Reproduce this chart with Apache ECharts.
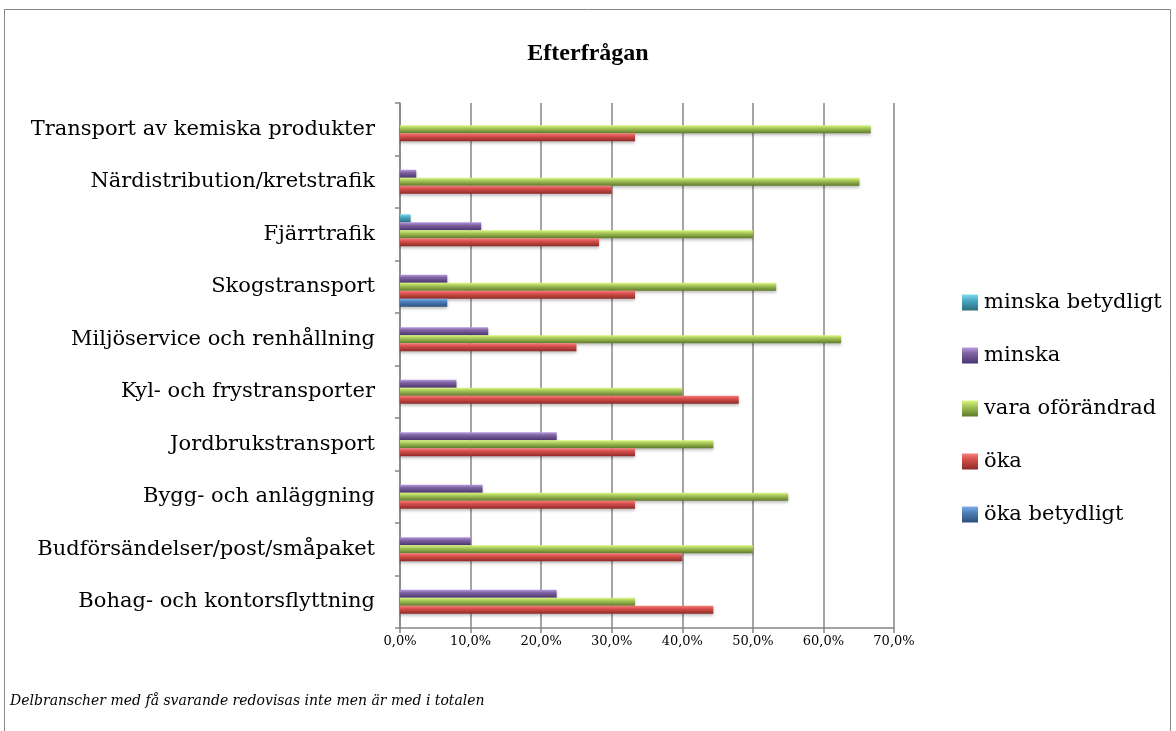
<!DOCTYPE html>
<html>
<head>
<meta charset="utf-8">
<script src="https://cdn.jsdelivr.net/npm/echarts@6/dist/echarts.min.js"></script>
<style>
  html, body { margin: 0; padding: 0; background: #fff; }
  #chart { width: 1176px; height: 731px; }
</style>
</head>
<body>
<div id="chart"></div>
<script>
// categories bottom -> top (ECharts draws the first category at the bottom)
const categories = [
  'Bohag- och kontorsflyttning',
  'Budförsändelser/post/småpaket',
  'Bygg- och anläggning',
  'Jordbrukstransport',
  'Kyl- och frystransporter',
  'Miljöservice och renhållning',
  'Skogstransport',
  'Fjärrtrafik',
  'Närdistribution/kretstrafik',
  'Transport av kemiska produkter'
];

// percent values, same order as categories
const minskaBetydligt  = [0, 0, 0, 0, 0, 0, 0, 1.5, 0, 0];
const minska           = [22.2, 10.0, 11.7, 22.2, 8.0, 12.5, 6.7, 11.5, 2.3, 0];
const varaOforandrad   = [33.3, 50.0, 55.0, 44.4, 40.0, 62.5, 53.3, 50.0, 65.1, 66.7];
const oka              = [44.4, 40.0, 33.3, 33.3, 48.0, 25.0, 33.3, 28.2, 30.0, 33.3];
const okaBetydligt     = [0, 0, 0, 0, 0, 0, 6.7, 0, 0, 0];

const legendNames = ['minska betydligt', 'minska', 'vara oförändrad', 'öka', 'öka betydligt'];

const serif = '"Liberation Serif", "DejaVu Serif", serif';
const wideSerif = '"DejaVu Serif", "Liberation Serif", serif';

function grad(light, base, dark) {
  return new echarts.graphic.LinearGradient(0, 0, 0, 1, [
    { offset: 0, color: light },
    { offset: 0.35, color: base },
    { offset: 1, color: dark }
  ]);
}

function barSeries(name, data, colors) {
  return {
    name,
    type: 'bar',
    data,
    barWidth: 8,
    barGap: '0%',
    itemStyle: {
      color: grad(colors[0], colors[1], colors[2]),
      shadowColor: 'rgba(0,0,0,0.25)',
      shadowBlur: 3,
      shadowOffsetY: 2
    },
    emphasis: { disabled: true }
  };
}

const chart = echarts.init(document.getElementById('chart'));

chart.setOption({
  animation: false,
  title: {
    text: 'Efterfrågan',
    left: 'center',
    top: 37,
    textStyle: { fontFamily: serif, fontSize: 24, fontWeight: 'bold', color: '#000' }
  },
  legend: {
    orient: 'vertical',
    left: 957,
    top: 287,
    itemGap: 32,
    itemWidth: 16,
    itemHeight: 16,
    icon: 'rect',
    data: legendNames,
    textStyle: { fontFamily: wideSerif, fontSize: 21, lineHeight: 20, color: '#000', padding: [0, 0, 0, 1] }
  },
  grid: { left: 400, right: 282, top: 103, bottom: 103, containLabel: false },
  xAxis: {
    type: 'value',
    min: 0,
    max: 70,
    interval: 10,
    axisLine: { show: true, lineStyle: { color: '#868686', width: 1.5 } },
    axisTick: { show: true, length: 5, lineStyle: { color: '#868686', width: 1.5 } },
    splitLine: { show: true, lineStyle: { color: '#868686', width: 1.5 } },
    axisLabel: {
      fontFamily: wideSerif, fontSize: 13, color: '#000', margin: 7,
      formatter: v => v.toFixed(1).replace('.', ',') + '%'
    }
  },
  yAxis: {
    type: 'category',
    data: categories,
    axisLine: { show: true, lineStyle: { color: '#868686', width: 1.5 } },
    axisTick: { show: true, length: 5, lineStyle: { color: '#868686', width: 1.5 } },
    axisLabel: { fontFamily: wideSerif, fontSize: 21, color: '#000', margin: 25 }
  },
  // ECharts stacks horizontal bar series top -> bottom inside a band
  series: [
    barSeries('minska betydligt', minskaBetydligt, ['#7fdcf0', '#4bacc6', '#2a6e80']),
    barSeries('minska', minska, ['#b89be0', '#8064a2', '#4a3570']),
    barSeries('vara oförändrad', varaOforandrad, ['#dcf882', '#a8c85a', '#5f7a2a']),
    barSeries('öka', oka, ['#f5807c', '#d9514e', '#8c2a27']),
    barSeries('öka betydligt', okaBetydligt, ['#7fb0e8', '#4f81bd', '#2c4f7c'])
  ],
  graphic: [
    {
      type: 'rect',
      shape: { x: 4.5, y: 9.5, width: 1166, height: 760 },
      style: { fill: 'none', stroke: '#888', lineWidth: 1 },
      silent: true
    },
    {
      type: 'text',
      left: 10,
      top: 694,
      style: {
        text: 'Delbranscher med få svarande redovisas inte men är med i totalen',
        fontFamily: wideSerif, fontStyle: 'italic', fontSize: 14, fill: '#000'
      },
      silent: true
    }
  ]
});
</script>
</body>
</html>
